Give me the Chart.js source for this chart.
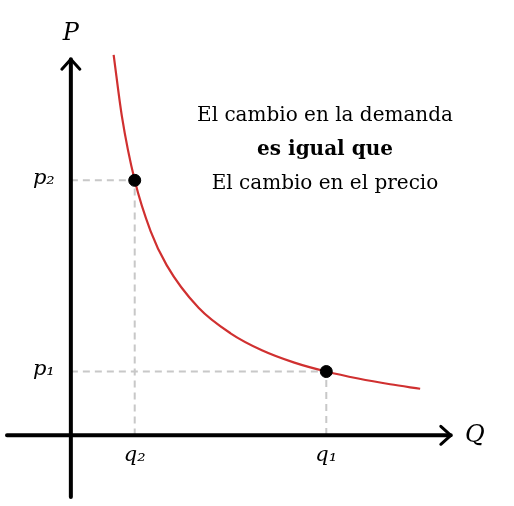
<!DOCTYPE html>
<html>
<head>
<meta charset="utf-8">
<script src="https://cdn.jsdelivr.net/npm/chart.js@4/dist/chart.umd.min.js"></script>
<style>
  html, body { margin: 0; padding: 0; background: #fff; }
  #wrap { width: 514px; height: 506px; }
</style>
</head>
<body>
<div id="wrap"><canvas id="chart"></canvas></div>
<script>
// demand curve (Q, P)
var curveQ = [0.67, 0.8, 1, 1.25, 1.5, 2, 2.5, 3, 3.5, 4, 4.5, 5, 5.47];
var curveP = [5.97, 5, 4, 3.2, 2.67, 2, 1.6, 1.33, 1.14, 1, 0.89, 0.8, 0.73];
// marked points
var pointQ = [1, 4];
var pointP = [4, 1];
var pointLabelsQ = ["q₂", "q₁"];
var pointLabelsP = ["p₂", "p₁"];
var noteLines = ["El cambio en la demanda", "es igual que", "El cambio en el precio"];

var serif = "'DejaVu Serif', 'Liberation Serif', serif";

var curve = curveQ.map(function (q, i) { return { x: q, y: curveP[i] }; });
var dashSets = pointQ.map(function (q, i) {
  return {
    data: [{ x: 0, y: pointP[i] }, { x: q, y: pointP[i] }, { x: q, y: 0 }],
    borderColor: "#c8c8c8", borderWidth: 2, borderDash: [7, 5],
    pointRadius: 0, fill: false, showLine: true
  };
});

var axesPlugin = {
  id: "axesPlugin",
  afterDatasetsDraw: function (chart) {
    var ctx = chart.ctx, xs = chart.scales.x, ys = chart.scales.y;
    var x0 = xs.getPixelForValue(0), y0 = ys.getPixelForValue(0);
    var xEnd = xs.getPixelForValue(5.95), yEnd = ys.getPixelForValue(5.9);
    ctx.save();
    ctx.strokeStyle = "#000"; ctx.lineWidth = 4; ctx.lineCap = "round"; ctx.lineJoin = "round";
    ctx.beginPath();
    ctx.moveTo(xs.getPixelForValue(-1), y0); ctx.lineTo(xEnd, y0);
    ctx.moveTo(x0, ys.getPixelForValue(-0.97)); ctx.lineTo(x0, yEnd);
    ctx.stroke();
    ctx.lineWidth = 3;
    ctx.beginPath();
    ctx.moveTo(xEnd - 10, y0 - 9); ctx.lineTo(xEnd, y0); ctx.lineTo(xEnd - 10, y0 + 9);
    ctx.moveTo(x0 - 9, yEnd + 10); ctx.lineTo(x0, yEnd); ctx.lineTo(x0 + 9, yEnd + 10);
    ctx.stroke();

    ctx.fillStyle = "#000";
    ctx.font = "italic 24px " + serif;
    ctx.textAlign = "center"; ctx.textBaseline = "middle";
    ctx.fillText("P", x0, yEnd - 25);
    ctx.fillText("Q", xEnd + 24, y0);

    ctx.font = "italic 21px " + serif;
    pointQ.forEach(function (q, i) {
      ctx.fillText(pointLabelsQ[i], xs.getPixelForValue(q), y0 + 20);
    });
    pointP.forEach(function (p, i) {
      ctx.fillText(pointLabelsP[i], x0 - 27, ys.getPixelForValue(p) - 2);
    });

    var cx = 325;
    ctx.font = "20px " + serif;
    ctx.fillText(noteLines[0], cx, 116);
    ctx.font = "bold 20px " + serif;
    ctx.fillText(noteLines[1], cx, 150);
    ctx.font = "20px " + serif;
    ctx.fillText(noteLines[2], cx, 184);
    ctx.restore();
  }
};

new Chart(document.getElementById("chart"), {
  type: "scatter",
  data: {
    datasets: [
      {
        data: pointQ.map(function (q, i) { return { x: q, y: pointP[i] }; }),
        pointRadius: 6, pointBackgroundColor: "#000", pointBorderColor: "#000", showLine: false
      },
      {
        data: curve, showLine: true, borderColor: "#d03030", borderWidth: 2.2,
        pointRadius: 0, cubicInterpolationMode: "monotone", fill: false
      }
    ].concat(dashSets)
  },
  options: {
    responsive: true, maintainAspectRatio: false, animation: false,
    layout: { padding: { left: 6, right: 60, top: 21, bottom: 5 } },
    plugins: { legend: { display: false }, tooltip: { enabled: false } },
    scales: {
      x: { type: "linear", min: -1, max: 6, display: false },
      y: { type: "linear", min: -1, max: 6.5, display: false }
    }
  },
  plugins: [axesPlugin]
});
</script>
</body>
</html>
